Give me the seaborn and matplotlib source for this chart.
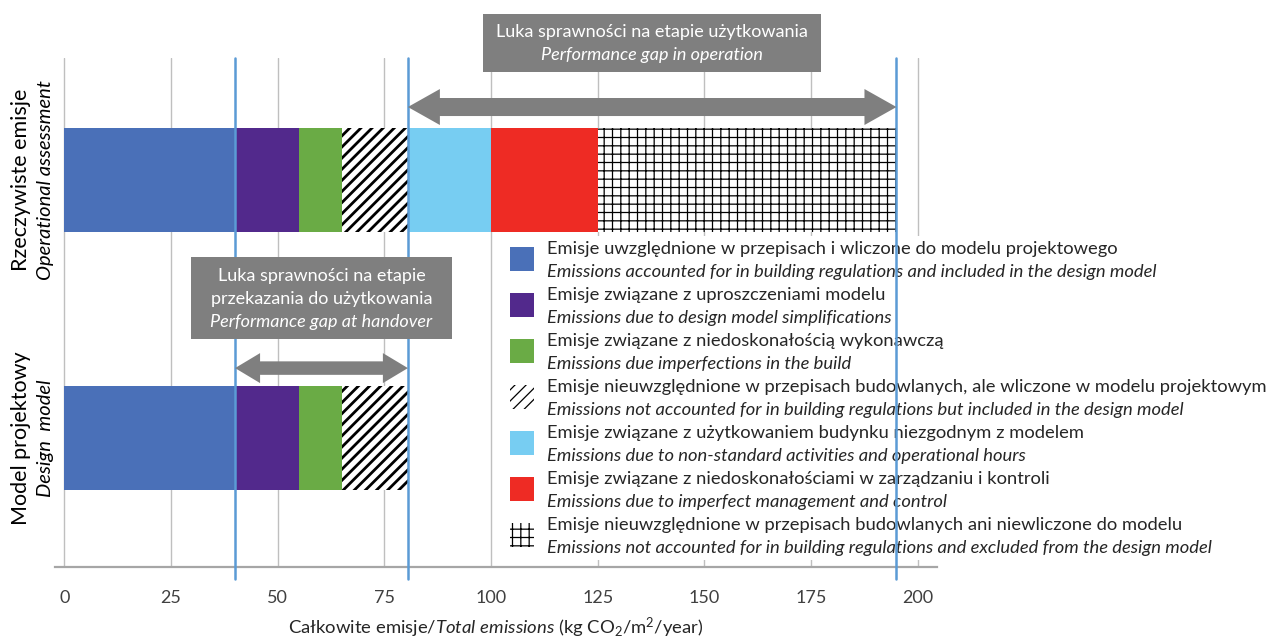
import matplotlib
matplotlib.use("Agg")
import matplotlib.pyplot as plt
import numpy as np
import pandas as pd
import seaborn as sns
from matplotlib.patches import Patch, Rectangle
from matplotlib.legend_handler import HandlerBase

# ---------------- data ----------------
rows = ["operational", "design"]
row_pl = ["Rzeczywiste emisje", "Model projektowy"]
row_en = ["Operational assessment", "Design  model"]

segment_pl = [
    "Emisje uwzględnione w przepisach i wliczone do modelu projektowego",
    "Emisje związane z uproszczeniami modelu",
    "Emisje związane z niedoskonałością wykonawczą",
    "Emisje nieuwzględnione w przepisach budowlanych, ale wliczone w modelu projektowym",
    "Emisje związane z użytkowaniem budynku niezgodnym z modelem",
    "Emisje związane z niedoskonałościami w zarządzaniu i kontroli",
    "Emisje nieuwzględnione w przepisach budowlanych ani niewliczone do modelu",
]
segment_en = [
    "Emissions accounted for in building regulations and included in the design model",
    "Emissions due to design model simplifications",
    "Emissions due imperfections in the build",
    "Emissions not accounted for in building regulations but included in the design model",
    "Emissions due to non-standard activities and operational hours",
    "Emissions due to imperfect management and control",
    "Emissions not accounted for in building regulations and excluded from the design model",
]
operational_values = [40, 15, 10, 15.5, 19.5, 25, 70]
design_values = [40, 15, 10, 15.5]
xticks = [0, 25, 50, 75, 100, 125, 150, 175, 200]

gap_handover_title = ["Luka sprawności na etapie", "przekazania do użytkowania", "Performance gap at handover"]
gap_operation_title = ["Luka sprawności na etapie użytkowania", "Performance gap in operation"]
xlabel = "Całkowite emisje/$\\mathit{Total\\ emissions}$ (kg CO$_2$/m$^2$/year)"

# ---------------- style ----------------
seg_colors = ["#4A70B8", "#52298C", "#6AAB45", "#FFFFFF", "#77CDF2", "#EE2B24", "#FFFFFF"]
seg_hatch = [None, None, None, "///", None, None, "++"]
seg_hatch_lw = [1, 1, 1, 2.0, 1, 1, 0.9]
GRAY = "#7F7F7F"
LINE_BLUE = "#5B9BD5"

sns.set_style("white")
plt.rcParams["font.family"] = ["Lato", "DejaVu Sans"]
plt.rcParams["mathtext.fontset"] = "custom"
plt.rcParams["mathtext.rm"] = "Lato"
plt.rcParams["mathtext.it"] = "Lato:italic"
plt.rcParams["mathtext.bf"] = "Lato:bold"

W, H = 1276, 640
fig = plt.figure(figsize=(W / 100, H / 100), dpi=100)
ax = fig.add_axes([55 / W, 1 - 567 / H, 882 / W, 509 / H])
PX_X = 882 / (204.5 + 2.2)   # pixels per x unit
PX_Y = 258                   # pixels per y unit

# ---------------- stacked bars (drawn as cumulative totals, back to front) ----------------
op_cum = np.cumsum(operational_values)
de_cum = np.cumsum(design_values)
for k in range(len(operational_values) - 1, -1, -1):
    recs = [{"row": rows[0], "total": op_cum[k]}]
    if k < len(design_values):
        recs.append({"row": rows[1], "total": de_cum[k]})
    df = pd.DataFrame(recs)
    plt.rcParams["hatch.linewidth"] = seg_hatch_lw[k]
    n_before = len(ax.patches)
    sns.barplot(data=df, x="total", y="row", order=rows, orient="y", width=0.4,
                color=seg_colors[k], saturation=1, errorbar=None, ax=ax,
                edgecolor="black", linewidth=0, hatch=seg_hatch[k], zorder=2)
    for p in ax.patches[n_before:]:
        p.set_facecolor(seg_colors[k])
        if hasattr(p, "set_hatch_linewidth"):
            p.set_hatch_linewidth(seg_hatch_lw[k])

ax.set_xlim(-2.2, 204.5)
ax.set_ylim(1.5, -0.473)
ax.set_xticks(xticks)
ax.set_xticklabels([str(t) for t in xticks])
ax.tick_params(axis="x", direction="out", length=8.6, width=1, color="#A6A6A6",
               labelsize=13, labelcolor="#404040", pad=8)
ax.tick_params(axis="y", left=False, labelleft=False)
ax.set_ylabel("")
ax.set_xlabel(xlabel, fontsize=13.3, color="#262626", labelpad=7)
ax.grid(axis="x", color="#BFBFBF", lw=1)
ax.grid(axis="y", visible=False)
ax.set_axisbelow(True)
for s in ["left", "right", "top"]:
    ax.spines[s].set_visible(False)
ax.spines["bottom"].set_color("#A6A6A6")
ax.spines["bottom"].set_linewidth(1.6)

# ---------------- row labels ----------------
for i in range(len(rows)):
    ax.text(-0.0385, i, row_pl[i], transform=ax.get_yaxis_transform(), rotation=90,
            ha="center", va="center", fontsize=15.5, color="black")
    ax.text(-0.0113, i, row_en[i], transform=ax.get_yaxis_transform(), rotation=90,
            ha="center", va="center", fontsize=14.5, style="italic", color="black")

# ---------------- gap lines ----------------
gap_lines = [design_values[0], de_cum[-1], op_cum[-1]]
for g in gap_lines:
    ax.axvline(g, ymin=-0.0236, ymax=1, color=LINE_BLUE, lw=1.8, zorder=6, clip_on=False)

# ---------------- arrows ----------------
def double_arrow(x0, x1, y, hw_px, hl_px, tw_px):
    hl = hl_px / PX_X
    # two arrows pointing opposite ways, each starting at the base of the other's head
    for start, end in ((x0 + hl, x1), (x1 - hl, x0)):
        ax.arrow(start, y, end - start, 0, width=tw_px / PX_Y, head_width=hw_px / PX_Y,
                 head_length=hl, length_includes_head=True, color=GRAY, lw=0,
                 zorder=7, clip_on=False)

double_arrow(de_cum[-1], op_cum[-1], -0.283, 36, 32, 18)
double_arrow(design_values[0], de_cum[-1], 0.729, 30, 25, 13)

# ---------------- gray boxes ----------------
c_top = (de_cum[-1] + op_cum[-1]) / 2
ax.add_patch(Rectangle((c_top - 39.6, -0.643), 79.2, 0.224, facecolor=GRAY, edgecolor="none",
                       zorder=7, clip_on=False))
ax.text(c_top, -0.574, gap_operation_title[0], ha="center", va="center", color="white",
        fontsize=13, zorder=8, clip_on=False)
ax.text(c_top, -0.484, gap_operation_title[1], ha="center", va="center", color="white",
        fontsize=13, style="italic", zorder=8, clip_on=False)

c_bot = (design_values[0] + de_cum[-1]) / 2
ax.add_patch(Rectangle((c_bot - 30.6, 0.298), 61.2, 0.318, facecolor=GRAY, edgecolor="none",
                       zorder=7, clip_on=False))
for j, (t, yy) in enumerate(zip(gap_handover_title, [0.372, 0.461, 0.550])):
    ax.text(c_bot, yy, t, ha="center", va="center", color="white", fontsize=13,
            style="italic" if j == 2 else "normal", zorder=8, clip_on=False)

# ---------------- legend ----------------
class ShiftRect(HandlerBase):
    def create_artists(self, legend, orig, xdescent, ydescent, width, height, fontsize, trans):
        h = 17.3
        cy = -ydescent + height / 2 - 8.3
        r = Rectangle((-xdescent, cy - h / 2), width, h, facecolor=orig.get_facecolor(),
                      edgecolor="black", lw=0, hatch=orig.get_hatch(), transform=trans)
        return [r]

handles, labels, hmap = [], [], {}
for k in range(len(segment_pl)):
    plt.rcParams["hatch.linewidth"] = seg_hatch_lw[k]
    p = Patch(facecolor=seg_colors[k], hatch=seg_hatch[k], edgecolor="black", lw=0)
    if hasattr(p, "set_hatch_linewidth"):
        p.set_hatch_linewidth(seg_hatch_lw[k])
    hmap[p] = ShiftRect()
    handles += [p, Patch(visible=False)]
    labels += [segment_pl[k], segment_en[k]]

LFS = 13.2
leg = ax.legend(handles, labels, handler_map=hmap, loc="upper left",
                bbox_to_anchor=(505 / W, 1 - 236 / H), bbox_transform=fig.transFigure,
                borderaxespad=0, borderpad=0.27, fontsize=LFS, labelspacing=0.38,
                handlelength=17.3 / LFS, handletextpad=9.4 / LFS, frameon=True, fancybox=False,
                facecolor="white", edgecolor="none", framealpha=1)
for j, t in enumerate(leg.get_texts()):
    t.set_color("#262626")
    if j % 2 == 1:
        t.set_fontstyle("italic")
leg.set_zorder(5)

fig.savefig("out.png", dpi=100)
